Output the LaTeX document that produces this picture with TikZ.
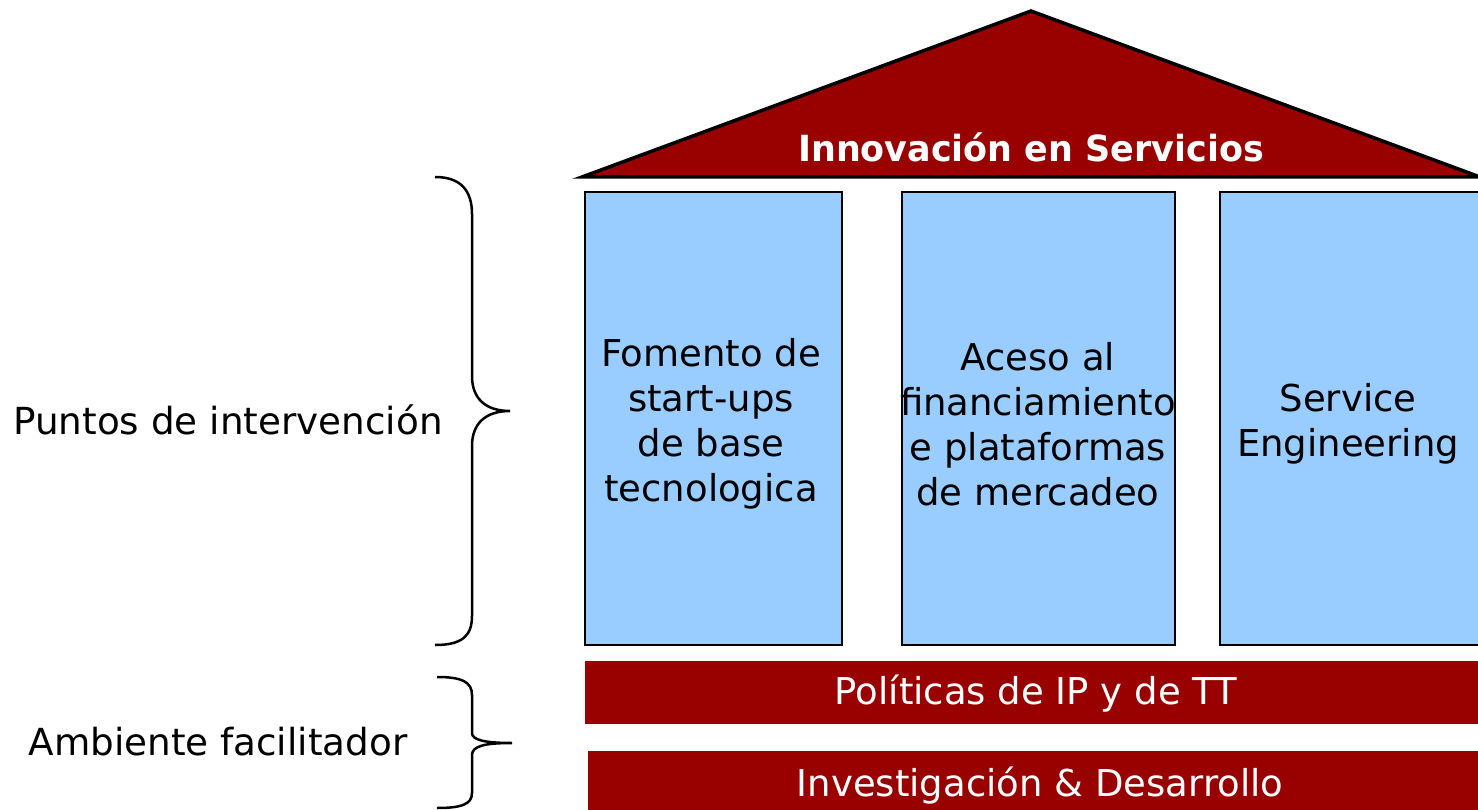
\documentclass[tikz,border=0pt]{standalone}
\usepackage{fontspec}
\usepackage{graphicx}
\setmainfont{DejaVu Sans}
\definecolor{roofred}{HTML}{990000}
\definecolor{pillarblue}{HTML}{99CCFF}
\tikzset{
  pillar/.style={draw=black, line width=2.5pt, fill=pillarblue},
  bar/.style={fill=roofred, draw=none},
  pilltext/.style={align=center, font=\fontsize{37}{45}\selectfont, text=black, inner sep=0pt},
  bartext/.style={font=\fontsize{37}{45}\selectfont, text=white, inner sep=0pt},
  sidetext/.style={font=\fontsize{37.3}{45}\selectfont, text=black, inner sep=0pt},
  bracestyle/.style={draw=black, line width=2.5pt}
}
\begin{document}
\begin{tikzpicture}[x=1pt,y=-1pt]
\useasboundingbox (0,0) rectangle (1478,810);
% roof
\coordinate (apex) at (1031,11);
\coordinate (rl) at (582,177);
\coordinate (rr) at (1480,177);
\draw[fill=roofred, line width=3.5pt, line join=miter] (rl) -- (apex) -- (rr) -- cycle;
\node[font=\bfseries\fontsize{36}{40}\selectfont, text=white, inner sep=0pt] (title) at (1031,147) {\scalebox{0.97}[1]{Innovación en Servicios}};
% pillars
\draw[pillar] (585,192) rectangle (842,645);
\draw[pillar] (902,192) rectangle (1175,645);
\draw[pillar] (1220,192) rectangle (1479,645);
\node[pilltext] (p1) at (711,424) {Fomento de\\start-ups\\de base\\tecnologica};
\node[pilltext] (p2) at (1038,424) {Aceso al\\financiamiento\\e plataformas\\de mercadeo};
\node[pilltext] (p3) at (1348,424) {Service\\Engineering};
% bars
\fill[bar] (585,661) rectangle (1478,724);
\fill[bar] (588,751) rectangle (1478,810);
\node[bartext] (b1) at (1036,694) {Políticas de IP y de TT};
\node[bartext] (b2) at (1040,786) {Investigación \& Desarrollo};
% side labels
\node[sidetext] (l1) at (228,420) {Puntos de intervención};
\node[sidetext] (l2) at (218,742) {Ambiente facilitador};
% braces
\draw[bracestyle] (435,177) .. controls (462,177) and (472,192) .. (472,214) -- (472,376)
  .. controls (472,398) and (485,411) .. (510,411)
  .. controls (485,411) and (472,424) .. (472,446) -- (472,616)
  .. controls (472,636) and (462,645) .. (435,645);
\draw[bracestyle] (437,677) .. controls (462,677) and (472,682) .. (472,695) -- (472,733)
  .. controls (472,740) and (485,743) .. (512,743)
  .. controls (485,743) and (472,746) .. (472,755) -- (472,793)
  .. controls (472,804) and (462,808) .. (437,808);
\end{tikzpicture}
\end{document}
